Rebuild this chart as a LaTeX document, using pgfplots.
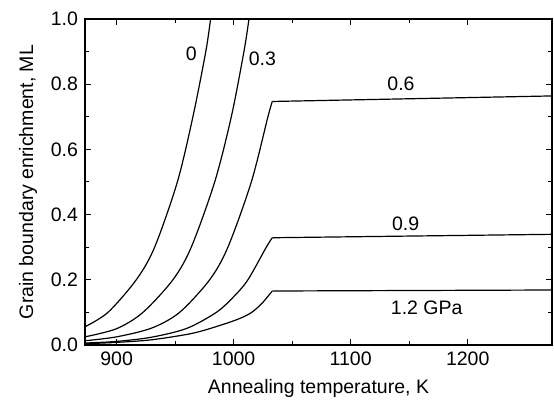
\documentclass[border=0pt]{standalone}
\usepackage{pgfplots}
\pgfplotsset{compat=1.18}
\usepackage{fontspec}
\setmainfont{Liberation Sans}
\begin{document}
\begin{tikzpicture}
\useasboundingbox (-42.5pt,-28.5pt) rectangle (234.5pt,172.5pt);
\begin{axis}[
  scale only axis,
  width=233.5pt, height=163pt,
  xmin=873, xmax=1272, ymin=0, ymax=1,
  xtick={900,1000,1100,1200},
  ytick={0,0.2,0.4,0.6,0.8,1.0},
  minor x tick num=1, minor y tick num=1,
  tick align=inside,
  major tick length=3pt, minor tick length=2pt,
  xticklabel style={/pgf/number format/assume math mode=true,/pgf/number format/1000 sep={}},
  yticklabel style={/pgf/number format/assume math mode=true,/pgf/number format/fixed,/pgf/number format/fixed zerofill,/pgf/number format/precision=1},
  font=\fontsize{9.75}{11.7}\selectfont,
  axis line style={line width=0.6pt},
  every tick/.style={line width=0.5pt,black},
  xlabel={Annealing temperature, K},
  ylabel={Grain boundary enrichment, ML},
]
\addplot[black,line width=0.6pt,smooth] coordinates {(873,0.056) (892.6,0.1) (916.8,0.2) (932.5,0.3) (951.9,0.5) (965.2,0.7) (976.2,0.9) (980.3,1.0)};
\addplot[black,line width=0.6pt,smooth] coordinates {(873,0.025) (900,0.05) (922.5,0.1) (948.1,0.2) (963.8,0.3) (983.8,0.5) (998,0.7) (1008.8,0.9) (1013.1,1.0)};
\addplot[black,line width=0.6pt,smooth] coordinates {(873,0.013) (900,0.025) (930,0.052) (953.8,0.1) (979.5,0.2) (995.1,0.3) (1015.1,0.5) (1029.3,0.7) (1033,0.747)};
\addplot[black,line width=0.6pt] coordinates {(1033,0.747) (1272,0.764)};
\addplot[black,line width=0.6pt,smooth] coordinates {(873,0.006) (900,0.011) (930,0.024) (960,0.051) (985.2,0.1) (1000,0.148) (1012.2,0.2) (1027.9,0.3) (1033,0.329)};
\addplot[black,line width=0.6pt] coordinates {(1033,0.329) (1272,0.3395)};
\addplot[black,line width=0.6pt,smooth] coordinates {(873,0.004) (900,0.008) (930,0.016) (965,0.036) (990,0.062) (1005,0.081) (1015,0.099) (1024,0.127) (1033,0.1656)};
\addplot[black,line width=0.6pt] coordinates {(1033,0.1656) (1272,0.1687)};
\node at (axis cs:963.8,0.893) {0};
\node at (axis cs:1024.5,0.879) {0.3};
\node at (axis cs:1143,0.8) {0.6};
\node at (axis cs:1147,0.373) {0.9};
\node at (axis cs:1165,0.113) {1.2 GPa};
\end{axis}
\end{tikzpicture}
\end{document}
